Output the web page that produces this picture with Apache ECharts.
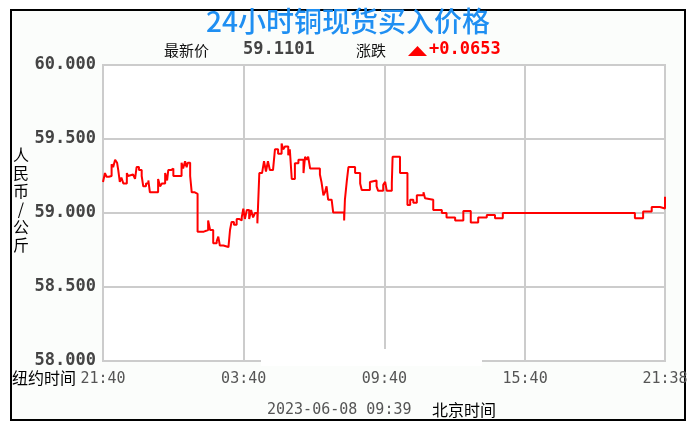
<!DOCTYPE html>
<html>
<head>
<meta charset="utf-8">
<script src="https://cdn.jsdelivr.net/npm/echarts@6/dist/echarts.min.js"></script>
<style>html,body{margin:0;padding:0;background:#fff;}#c{width:696px;height:431px;}</style>
</head>
<body>
<div id="c"></div>
<script>
// minutes since 21:40 (New York time)
const times = [0,5,9,15,22,26,31,36,39,43,47,52,61,64,69,77,82,86,92,99,103,110,116,120,130,141,146,151,159,164,167,174,180,184,201,205,210,214,217,223,227,235,
242,258,269,274,282,291,295,299,308,321,325,329,335,342,348,355,359,363,368,374,379,384,389,395,
400,407,412,417,422,427,435,440,448,457,461,466,474,478,
483,491,500,513,517,521,525,530,555,559,564,568,572,576,585,589,617,619,624,628,645,658,662,683,688,700,704,717,722,726,739,741,760,
779,786,794,803,820,824,828,845,867,879,901,922,941,960,982,1003,1023,1361,1382,1404,1425,1438];
const prices = [59.21,59.27,59.245,59.25,59.33,59.31,59.36,59.34,59.29,59.21,59.24,59.20,59.27,59.25,59.26,59.255,59.23,59.31,59.29,59.25,59.18,59.20,59.22,59.14,59.14,59.23,59.18,59.20,59.27,59.22,59.29,59.30,59.25,59.25,59.34,59.30,59.35,59.31,59.34,59.25,59.14,59.13,
58.874,58.885,58.95,58.885,58.795,58.81,58.84,58.78,58.77,58.78,58.885,58.94,58.92,58.96,58.95,58.97,59.03,58.96,59.02,58.96,59.02,58.97,59.00,58.93,
59.27,59.28,59.35,59.28,59.35,59.29,59.30,59.43,59.40,59.47,59.43,59.45,59.39,59.43,
59.23,59.336,59.36,59.27,59.38,59.36,59.38,59.30,59.26,59.21,59.12,59.14,59.18,59.09,59.08,59.003,58.95,59.09,59.22,59.31,59.27,59.20,59.155,59.21,59.22,59.18,59.15,59.19,59.21,59.15,59.20,59.38,59.27,
59.054,59.09,59.07,59.12,59.14,59.10,59.09,59.02,59.00,58.97,58.95,59.014,58.935,58.97,58.986,58.965,59.0,58.965,59.01,59.04,59.03,59.1101];

const xTickValues = [0,360,720,1080,1438];
const xTickLabels = ['21:40','03:40','09:40','15:40','21:38'];
const yMin = 58, yMax = 60, yStep = 0.5;

const titleText = '24小时铜现货买入价格';
const latestLabel = '最新价';
const latestValue = '59.1101';
const changeLabel = '涨跌';
const changeValue = '+0.0653';
const yAxisName = '人民币/公斤';
const xAxisName = '纽约时间';
const dateText = '2023-06-08 09:39';
const tzText = '北京时间';

const seriesData = times.map((t, i) => [t, prices[i]]);

const chart = echarts.init(document.getElementById('c'), null, {renderer: 'canvas'});
const cjk = '"Noto Sans CJK SC", sans-serif';
const mono = '"DejaVu Sans Mono", monospace';

chart.setOption({
  backgroundColor: '#ffffff',
  animation: false,
  grid: {
    left: 103, top: 65, right: 31, bottom: 70,
    show: true, backgroundColor: '#ffffff', borderColor: '#cccccc', borderWidth: 2
  },
  xAxis: {
    type: 'value', min: 0, max: 1438, interval: 360,
    axisLine: {show: false}, axisTick: {show: false},
    splitLine: {show: true, lineStyle: {color: '#cccccc', width: 2}},
    axisLabel: {
      showMinLabel: true, showMaxLabel: true,
      margin: 11, color: '#555555', fontFamily: mono, fontSize: 15,
      formatter: function (v) {
        const i = xTickValues.indexOf(Math.round(v));
        return i >= 0 ? xTickLabels[i] : '';
      }
    }
  },
  yAxis: {
    type: 'value', min: yMin, max: yMax, interval: yStep,
    axisLine: {show: false}, axisTick: {show: false},
    splitLine: {show: true, lineStyle: {color: '#cccccc', width: 2}},
    axisLabel: {
      margin: 7, color: '#444444', fontFamily: mono, fontWeight: 'bold', fontSize: 17,
      formatter: function (v) { return v.toFixed(3); }
    }
  },
  series: [{
    type: 'line', step: 'end', data: seriesData, showSymbol: false,
    lineStyle: {color: '#ff0000', width: 2}, z: 5
  }],
  graphic: [
    {type: 'rect', z: -10, shape: {x: 11, y: 10, width: 674, height: 410},
     style: {fill: '#fbfdfb', stroke: '#000000', lineWidth: 2}},
    {type: 'rect', z: 100, shape: {x: 261, y: 349, width: 221, height: 17},
     style: {fill: '#ffffff'}},
    {type: 'text', left: 'center', top: 7, z: 100,
     style: {text: titleText, fill: '#1f8ff2', font: '500 28px ' + cjk}},
    {type: 'text', x: 164, y: 50, z: 100,
     style: {text: latestLabel, fill: '#111111', font: '15px ' + cjk, textVerticalAlign: 'middle'}},
    {type: 'text', x: 243, y: 50, z: 100,
     style: {text: latestValue, fill: '#444444', font: 'bold 17px ' + mono, textVerticalAlign: 'middle'}},
    {type: 'text', x: 356, y: 50, z: 100,
     style: {text: changeLabel, fill: '#111111', font: '15px ' + cjk, textVerticalAlign: 'middle'}},
    {type: 'polygon', z: 100, shape: {points: [[408, 56], [427, 56], [417.5, 46]]},
     style: {fill: '#ff0000'}},
    {type: 'text', x: 429, y: 50, z: 100,
     style: {text: changeValue, fill: '#ff0000', font: 'bold 17px ' + mono, textVerticalAlign: 'middle'}},
    {type: 'text', x: 21, y: 146, z: 100,
     style: {text: yAxisName.split('').join('\n'), fill: '#000000', font: '16px ' + cjk,
             lineHeight: 18, textAlign: 'center'}},
    {type: 'text', x: 12, y: 378, z: 100,
     style: {text: xAxisName, fill: '#000000', font: '16px ' + cjk, textVerticalAlign: 'middle'}},
    {type: 'text', x: 267, y: 410, z: 100,
     style: {text: dateText, fill: '#555555', font: '15px ' + mono, textVerticalAlign: 'middle'}},
    {type: 'text', x: 432, y: 410, z: 100,
     style: {text: tzText, fill: '#000000', font: '16px ' + cjk, textVerticalAlign: 'middle'}}
  ]
});
</script>
</body>
</html>
